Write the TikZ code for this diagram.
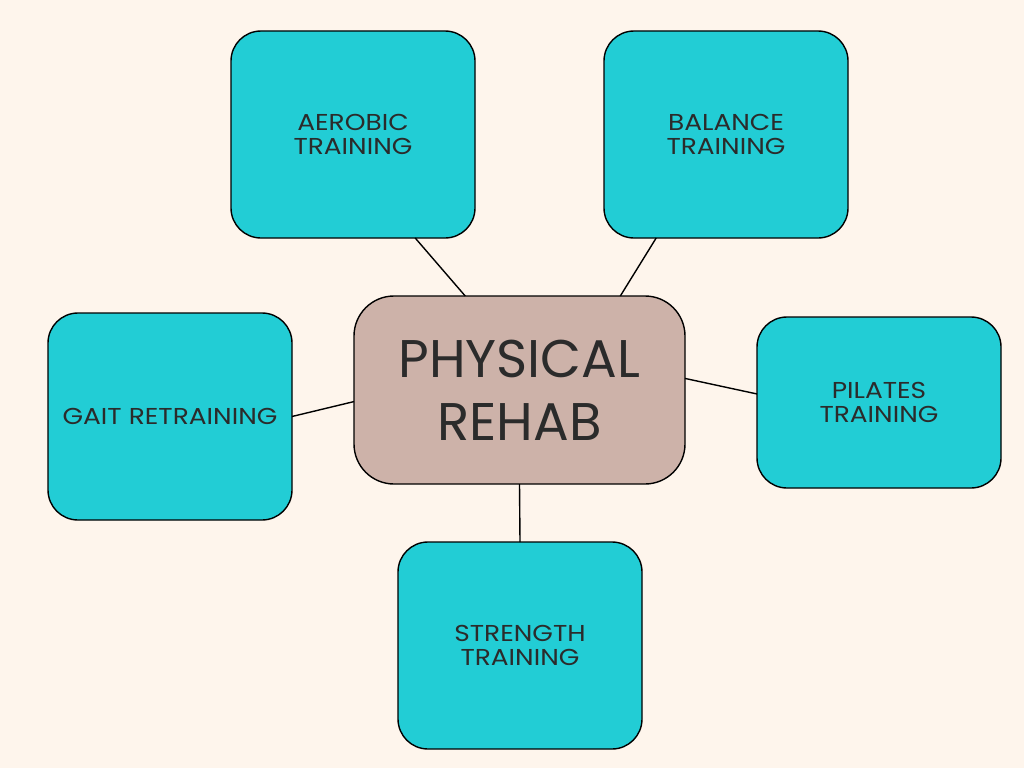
\documentclass[tikz,border=0pt]{standalone}
\usepackage{fontspec}
\setmainfont{Poppins}
\newfontfamily\widefont{Poppins}[FakeStretch=1.15]
\usepackage{tikz}
\usetikzlibrary{positioning}
\definecolor{paper}{HTML}{FEF5EC}
\definecolor{aqua}{HTML}{22CDD5}
\definecolor{clay}{HTML}{CDB2A9}
\definecolor{ink}{HTML}{2B2B2B}
\tikzset{
  topic/.style={draw=black,line width=1.4pt,rounded corners=30pt,fill=aqua,text=ink,align=center,
                font=\widefont\fontsize{23}{24}\selectfont,inner sep=0pt,outer sep=0pt,
                minimum width=244pt,minimum height=#1},
  topic/.default=207pt,
  hub/.style={draw=black,line width=1.4pt,rounded corners=40pt,fill=clay,text=ink,align=center,
              font=\fontsize{53}{63}\selectfont,inner sep=0pt,outer sep=0pt,
              minimum width=331pt,minimum height=188pt},
  link/.style={draw=black,line width=1.4pt},
}
\begin{document}
\begin{tikzpicture}[x=1pt,y=-1pt]
  \fill[paper] (0,0) rectangle (1024,768);
  \useasboundingbox (0,0) rectangle (1024,768);
  \node[hub] (rehab) at (519.5,390) {PHYSICAL\\ REHAB};
  \node[topic] (aerobic) at (353,134.5) {AEROBIC\\ TRAINING};
  \node[topic] (balance) at (726,134.5) {BALANCE\\ TRAINING};
  \node[topic] (gait) at (170,416.5) {GAIT RETRAINING};
  \node[topic=171pt] (pilates) at (879,402.5) {PILATES\\ TRAINING};
  \node[topic] (strength) at (520,645.5) {STRENGTH\\ TRAINING};
  \draw[link] (aerobic.-59) -- (rehab.120);
  \draw[link] (balance.-124) -- (rehab.43);
  \draw[link] (gait.east) -- (rehab.184);
  \draw[link] (pilates.176) -- (rehab.4);
  \draw[link] (strength.north) -- (rehab.south);
\end{tikzpicture}
\end{document}
